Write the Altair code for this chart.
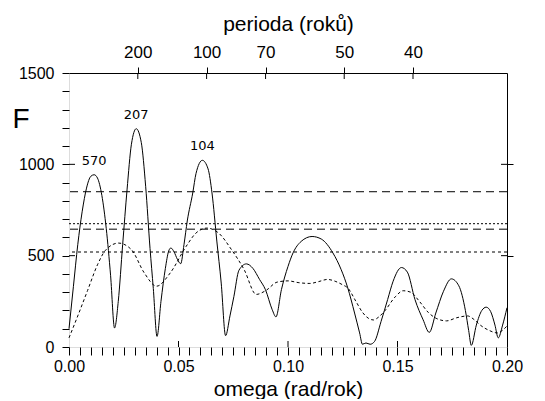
import math
import altair as alt
import pandas as pd

# ---------------- data ----------------
omega_solid = [0.000, 0.002, 0.004, 0.006, 0.008, 0.010, 0.0115, 0.013, 0.015, 0.017, 0.019, 0.0208,
               0.0225, 0.0245, 0.0265, 0.0285, 0.0307, 0.033, 0.035, 0.037, 0.0385, 0.0402,
               0.042, 0.044, 0.0455, 0.0465, 0.048, 0.0495, 0.051,
               0.0525, 0.054, 0.0565, 0.058, 0.0609, 0.0635, 0.0653, 0.0675, 0.0695, 0.0715,
               0.0735, 0.0753, 0.0776, 0.081, 0.084, 0.087, 0.0897, 0.0928, 0.0945,
               0.097, 0.100, 0.1023, 0.106, 0.111, 0.1152, 0.1205, 0.1243, 0.1273, 0.1304, 0.1327,
               0.134, 0.1356, 0.1375, 0.1395,
               0.1425, 0.1455, 0.148, 0.1518, 0.1545, 0.158, 0.1617, 0.1645,
               0.1675, 0.171, 0.1746, 0.178, 0.181, 0.1825, 0.1837,
               0.186, 0.1885, 0.1905, 0.1925, 0.1945, 0.196, 0.198, 0.200]
F_solid = [100, 330, 560, 740, 870, 935, 943, 925, 830, 650, 390, 104,
           250, 560, 860, 1110, 1195, 1120, 880, 540, 320, 58,
           250, 430, 525, 542, 520, 480, 456,
           560, 690, 843, 950, 1022, 975, 843, 580, 350, 62,
           170, 277, 420, 455, 430, 370, 314, 204, 165,
           314, 441, 515, 578, 605, 591, 515, 423, 323, 186, 77,
           15, 22, 15, 30,
           140, 260, 360, 435, 410, 259, 149, 80,
           186, 305, 373, 335, 200, 90, 9,
           120, 200, 218, 195, 120, 50, 120, 215]

omega_dash = [0.000, 0.004, 0.0085, 0.013, 0.0167, 0.0226, 0.0285, 0.0344, 0.040, 0.0462, 0.0535,
              0.058, 0.063, 0.0683, 0.0742, 0.080, 0.0855, 0.090, 0.095, 0.100, 0.105, 0.110,
              0.114, 0.118, 0.1215, 0.125, 0.1273, 0.131, 0.134, 0.137, 0.139, 0.1415, 0.144,
              0.149, 0.1526, 0.156, 0.160, 0.164, 0.168, 0.1724, 0.177, 0.182, 0.185, 0.188,
              0.192, 0.1955, 0.198, 0.200]
F_dash = [50, 170, 310, 450, 530, 569, 533, 405, 333, 405, 551,
          624, 651, 624, 533, 423, 288, 310, 355, 362, 352, 348,
          358, 370, 360, 340, 323, 250, 190, 155, 148, 165, 195,
          275, 308, 300, 250, 190, 155, 143, 160, 170, 150, 118,
          90, 77, 92, 115]

ref_long = [850, 645]
ref_dot = [675]
ref_short = [520]

peak_labels = ["570", "207", "104"]
peak_omega = [0.0115, 0.0307, 0.0609]
peak_F = [943, 1195, 1022]

periods = [200, 100, 70, 50, 40]
period_omega = [2 * math.pi / p for p in periods]

x_labels = [0.0, 0.05, 0.10, 0.15, 0.20]
x_minor = [round(i * 0.005, 3) for i in range(41)]
x_major = [0.05, 0.10, 0.15]
y_labels = [0, 500, 1000, 1500]
y_minor = list(range(0, 1501, 100))
y_inner = [500, 1000]

# ---------------- chart ----------------
W, H = 438, 274
FONT = "DejaVu Sans"
xs = alt.Scale(domain=[0, 0.2], nice=False, zero=False)
ys = alt.Scale(domain=[0, 1500], nice=False)
AX = dict(grid=False, domainColor="black", tickColor="black", labelColor="black", titleColor="black")

solid_df = pd.DataFrame({"omega": omega_solid, "F": F_solid})
dash_df = pd.DataFrame({"omega": omega_dash, "F": F_dash})

# tick-only axes on the bottom and left edges (all ticks, outward)
x_minor_axis = alt.Chart(pd.DataFrame({"o": x_minor})).mark_point(opacity=0).encode(
    x=alt.X("o:Q", scale=xs, axis=alt.Axis(
        orient="bottom", values=x_minor, tickCount=200, labels=False, domain=False,
        tickSize=8, title=None, **AX)))

y_minor_axis = alt.Chart(pd.DataFrame({"v": y_minor})).mark_point(opacity=0).encode(
    y=alt.Y("v:Q", scale=ys, axis=alt.Axis(
        orient="left", values=y_minor, tickCount=200, labels=False, domain=False,
        tickSize=7, title=None, **AX)))

# labelled axes: anchored on the opposite side and moved onto the bottom / left edge with offset
solid = alt.Chart(solid_df).mark_line(color="black", strokeWidth=1, interpolate="monotone").encode(
    x=alt.X("omega:Q", scale=xs, axis=alt.Axis(
        orient="top", offset=-H, values=x_labels, tickCount=50, format=".2f",
        ticks=False, tickSize=0, domain=False,
        labelFontSize=16, labelPadding=-11, labelBaseline="top",
        labelFlush=False, labelOverlap=False,
        title="omega (rad/rok)", titleFontSize=21, titleFontWeight="normal",
        titleBaseline="alphabetic", titleY=48, titleAngle=0, **AX)),
    y=alt.Y("F:Q", scale=ys, axis=alt.Axis(
        orient="right", offset=-W, values=y_labels, tickCount=50, format="d",
        ticks=False, tickSize=0, domain=False,
        labelFontSize=16, labelPadding=-15, labelAlign="right", labelBaseline="middle",
        labelOverlap=False, labelFlush=False,
        title="F", titleAngle=0, titleAlign="left", titleBaseline="alphabetic",
        titleX=-57, titleY=54, titleFontSize=28, titleFontWeight="normal", **AX)),
)

dashed = alt.Chart(dash_df).mark_line(color="black", strokeWidth=1, strokeDash=[3, 2.5],
                                       interpolate="monotone").encode(
    x=alt.X("omega:Q", scale=xs, axis=None),
    y=alt.Y("F:Q", scale=ys, axis=None),
)

def hrule(vals, dash):
    return alt.Chart(pd.DataFrame({"v": vals})).mark_rule(
        color="black", strokeWidth=1, strokeDash=dash).encode(
        y=alt.Y("v:Q", scale=ys, axis=None))

r_long = hrule(ref_long, [8, 5])
r_dot = hrule(ref_dot, [2, 2])
r_short = hrule(ref_short, [3, 3])

labels = alt.Chart(pd.DataFrame({"o": peak_omega, "F": peak_F, "t": peak_labels})).mark_text(
    font=FONT, fontSize=13, baseline="bottom", dy=-7, color="black").encode(
    x=alt.X("o:Q", scale=xs, axis=None),
    y=alt.Y("F:Q", scale=ys, axis=None),
    text="t:N",
)

top_df = pd.DataFrame({"o": period_omega})
top_axis = alt.Chart(top_df).mark_rule(color="black", strokeWidth=1).encode(
    x=alt.X("o:Q", scale=xs, axis=alt.Axis(
        orient="top", values=period_omega, tickCount=200,
        labelExpr="format(2*PI/datum.value, '.0f')",
        tickSize=6, labelFontSize=17, labelPadding=6, labelFlush=False,
        title="perioda (roků)", titleFontSize=21, titleFontWeight="normal", titlePadding=9, **AX)),
    y=alt.value(0), y2=alt.value(6),
)

tick_rule = dict(color="black", strokeWidth=1)

bottom_in = alt.Chart(pd.DataFrame({"o": x_major})).mark_rule(**tick_rule).encode(
    x=alt.X("o:Q", scale=xs, axis=None), y=alt.value(H), y2=alt.value(H - 6))

left_in = alt.Chart(pd.DataFrame({"v": y_inner})).mark_rule(**tick_rule).encode(
    y=alt.Y("v:Q", scale=ys, axis=None), x=alt.value(0), x2=alt.value(6))

right_axis = alt.Chart(pd.DataFrame({"v": y_inner})).mark_rule(**tick_rule).encode(
    y=alt.Y("v:Q", scale=ys, axis=alt.Axis(
        orient="right", values=y_inner, tickCount=200, labels=False, tickSize=6, title=None, **AX)),
    x=alt.value(W), x2=alt.value(W - 6))

chart = alt.layer(
    x_minor_axis, y_minor_axis, r_long, r_dot, r_short, dashed, solid, labels, top_axis,
    bottom_in, left_in, right_axis
).resolve_scale(x="independent", y="independent").properties(
    width=W, height=H,
    autosize=alt.AutoSizeParams(type="none"),
    padding={"left": 61, "top": 65, "right": 30, "bottom": 52},
).configure_view(stroke="black", strokeWidth=1).configure_axis(
    labelFont=FONT, titleFont=FONT, tickWidth=1, domainWidth=1
).configure(background="white")

chart.save("out.html", embed_options={"renderer": "svg", "actions": False})
